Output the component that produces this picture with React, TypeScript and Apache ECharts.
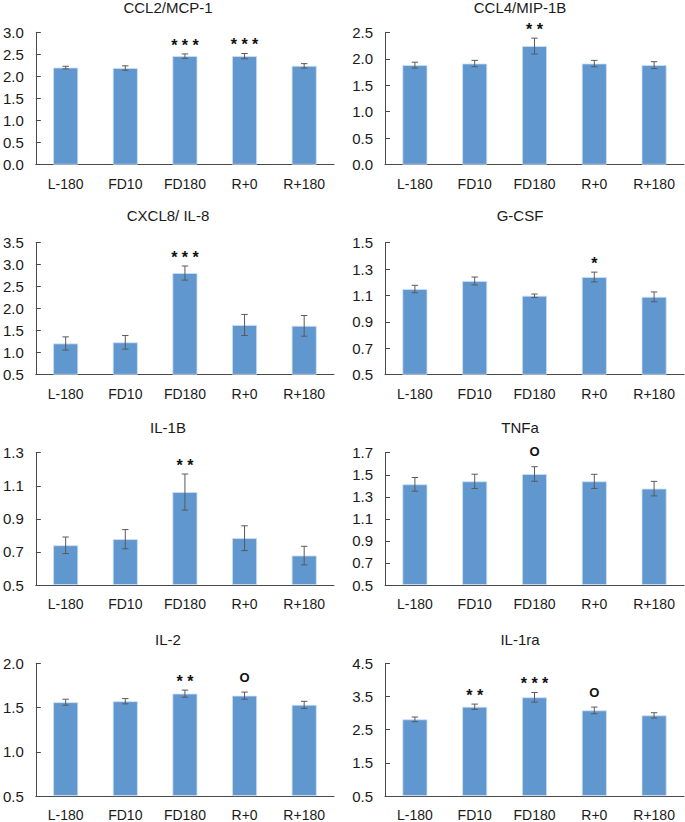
import React, { useEffect, useRef } from "react";
import * as echarts from "echarts";

const categories = ["L-180", "FD10", "FD180", "R+0", "R+180"];

const titles = ["CCL2/MCP-1", "CCL4/MIP-1B", "CXCL8/ IL-8", "G-CSF", "IL-1B", "TNFa", "IL-2", "IL-1ra"];

const ccl2Values = [2.2, 2.19, 2.46, 2.46, 2.24];
const ccl2Errors = [0.03, 0.05, 0.05, 0.06, 0.05];
const ccl2Marks = ["", "", "* * *", "* * *", ""];

const ccl4Values = [1.88, 1.91, 2.24, 1.91, 1.88];
const ccl4Errors = [0.055, 0.06, 0.15, 0.06, 0.065];
const ccl4Marks = ["", "", "* *", "", ""];

const cxcl8Values = [1.21, 1.235, 2.81, 1.63, 1.61];
const cxcl8Errors = [0.15, 0.155, 0.16, 0.24, 0.235];
const cxcl8Marks = ["", "", "* * *", "", ""];

const gcsfValues = [1.149, 1.21, 1.098, 1.24, 1.09];
const gcsfErrors = [0.028, 0.03, 0.013, 0.037, 0.037];
const gcsfMarks = ["", "", "", "*", ""];

const il1bValues = [0.74, 0.777, 1.062, 0.783, 0.678];
const il1bErrors = [0.05, 0.058, 0.109, 0.075, 0.056];
const il1bMarks = ["", "", "* *", "", ""];

const tnfaValues = [1.413, 1.44, 1.507, 1.44, 1.374];
const tnfaErrors = [0.062, 0.065, 0.066, 0.064, 0.066];
const tnfaMarks = ["", "", "O", "", ""];

const il2Values = [1.56, 1.571, 1.657, 1.634, 1.53];
const il2Errors = [0.034, 0.03, 0.04, 0.04, 0.04];
const il2Marks = ["", "", "* *", "O", ""];

const il1raValues = [2.81, 3.19, 3.475, 3.08, 2.93];
const il1raErrors = [0.07, 0.08, 0.145, 0.1, 0.08];
const il1raMarks = ["", "* *", "* * *", "O", ""];

const axisMins = [0, 0, 0.5, 0.5, 0.5, 0.5, 0.5, 0.5];
const axisMaxs = [3.0, 2.5, 3.5, 1.5, 1.3, 1.7, 2.0, 4.5];
const axisSteps = [0.5, 0.5, 0.5, 0.2, 0.2, 0.2, 0.5, 1.0];

const allValues = [ccl2Values, ccl4Values, cxcl8Values, gcsfValues, il1bValues, tnfaValues, il2Values, il1raValues];
const allErrors = [ccl2Errors, ccl4Errors, cxcl8Errors, gcsfErrors, il1bErrors, tnfaErrors, il2Errors, il1raErrors];
const allMarks = [ccl2Marks, ccl4Marks, cxcl8Marks, gcsfMarks, il1bMarks, tnfaMarks, il2Marks, il1raMarks];

const FONT = '"Liberation Sans", Arial, Helvetica, sans-serif';
const TEXT_COLOR = "#1a1a1a";
const AXIS_COLOR = "#4a4a4a";
const BAR_COLOR = "#6097CE";
const ERR_COLOR = "#5a5a5a";

const gridLefts = [35, 385];
const gridWidth = 299;
const rowTops = [32.3, 242.7, 452.7, 663.3];
const rowHeights = [132.4, 132, 132.3, 134];
const titleXs = [168, 520];
const titleYs = [7.5, 215, 427, 639.5];

const r6 = (v: number) => Number(v.toFixed(6));

function buildOption() {
  const grid: any[] = [];
  const xAxis: any[] = [];
  const yAxis: any[] = [];
  const series: any[] = [];
  const graphic: any[] = [];

  titles.forEach((title, i) => {
    const col = i % 2;
    const row = Math.floor(i / 2);
    const min = axisMins[i];
    const span = r6(axisMaxs[i] - min);
    const values = allValues[i];
    const errors = allErrors[i];
    const marks = allMarks[i];

    grid.push({ left: gridLefts[col], top: rowTops[row], width: gridWidth, height: rowHeights[row] });

    xAxis.push({
      type: "category",
      gridIndex: i,
      data: categories,
      axisLine: { show: true, lineStyle: { color: AXIS_COLOR, width: 1 } },
      axisTick: { show: false },
      axisLabel: { margin: 12, fontSize: 14, color: TEXT_COLOR, fontFamily: FONT, interval: 0 },
      splitLine: { show: false },
    });

    yAxis.push({
      type: "value",
      gridIndex: i,
      min: 0,
      max: span,
      interval: axisSteps[i],
      axisLine: { show: true, lineStyle: { color: AXIS_COLOR, width: 1 } },
      axisTick: { show: true, inside: true, length: 5, lineStyle: { color: AXIS_COLOR } },
      axisLabel: {
        margin: 12,
        fontSize: 15,
        color: TEXT_COLOR,
        fontFamily: FONT,
        formatter: (v: number) => (v + min).toFixed(1),
      },
      splitLine: { show: false },
    });

    series.push({
      type: "bar",
      xAxisIndex: i,
      yAxisIndex: i,
      barWidth: 25,
      data: values.map((v) => r6(v - min)),
      itemStyle: { color: BAR_COLOR, borderColor: "#cfe0f2", borderWidth: 0.8 },
      z: 2,
    });

    series.push({
      type: "custom",
      xAxisIndex: i,
      yAxisIndex: i,
      z: 3,
      data: values.map((v, k) => [k, r6(v - errors[k] - min), r6(v + errors[k] - min)]),
      encode: { x: 0, y: [1, 2] },
      renderItem: (params: any, api: any) => {
        const lo = api.coord([api.value(0), api.value(1)]);
        const hi = api.coord([api.value(0), api.value(2)]);
        const cx = lo[0];
        const cap = 3.2;
        const mark = marks[params.dataIndex];
        const children: any[] = [
          { type: "line", shape: { x1: cx, y1: lo[1], x2: cx, y2: hi[1] }, style: { stroke: ERR_COLOR, lineWidth: 1 } },
          { type: "line", shape: { x1: cx - cap, y1: lo[1], x2: cx + cap, y2: lo[1] }, style: { stroke: ERR_COLOR, lineWidth: 1 } },
          { type: "line", shape: { x1: cx - cap, y1: hi[1], x2: cx + cap, y2: hi[1] }, style: { stroke: ERR_COLOR, lineWidth: 1 } },
        ];
        if (mark) {
          const isO = mark === "O";
          children.push({
            type: "text",
            style: {
              text: mark,
              x: cx,
              y: isO ? hi[1] - 8.5 : hi[1] - 0.9,
              align: "center",
              verticalAlign: "bottom",
              fontSize: isO ? 13 : 16,
              fontWeight: "bold",
              fontFamily: FONT,
              fill: "#111",
            },
          });
        }
        return { type: "group", children };
      },
    });

    graphic.push({
      type: "text",
      x: titleXs[col],
      y: titleYs[row],
      style: {
        text: title,
        align: "center",
        verticalAlign: "middle",
        fontSize: 15,
        fontFamily: FONT,
        fill: TEXT_COLOR,
      },
    });
  });

  return {
    animation: false,
    backgroundColor: "#ffffff",
    grid,
    xAxis,
    yAxis,
    series,
    graphic,
  };
}

export default function App() {
  const ref = useRef<HTMLDivElement>(null);
  useEffect(() => {
    document.body.style.margin = "0";
    if (!ref.current) return;
    const chart = echarts.init(ref.current, undefined, { renderer: "svg" });
    chart.setOption(buildOption() as any);
    return () => {
      chart.dispose();
    };
  }, []);
  return <div ref={ref} style={{ width: 685, height: 822 }} />;
}
